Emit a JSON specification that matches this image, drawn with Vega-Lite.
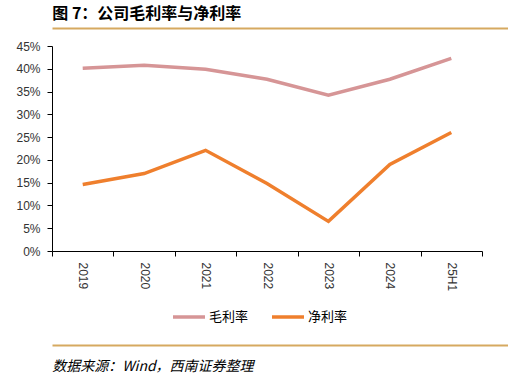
{
  "$schema": "https://vega.github.io/schema/vega-lite/v6.json",
  "background": "white",
  "padding": {"left": 5, "right": 3, "top": 5, "bottom": 2},
  "spacing": 9,
  "config": {"view": {"stroke": null}, "font": "Liberation Sans"},
  "datasets": {
    "margins": [
      {"year": "2019", "type": "毛利率", "value": 0.401},
      {"year": "2020", "type": "毛利率", "value": 0.408},
      {"year": "2021", "type": "毛利率", "value": 0.399},
      {"year": "2022", "type": "毛利率", "value": 0.377},
      {"year": "2023", "type": "毛利率", "value": 0.342},
      {"year": "2024", "type": "毛利率", "value": 0.377},
      {"year": "25H1", "type": "毛利率", "value": 0.423},
      {"year": "2019", "type": "净利率", "value": 0.146},
      {"year": "2020", "type": "净利率", "value": 0.170},
      {"year": "2021", "type": "净利率", "value": 0.221},
      {"year": "2022", "type": "净利率", "value": 0.148},
      {"year": "2023", "type": "净利率", "value": 0.065},
      {"year": "2024", "type": "净利率", "value": 0.190},
      {"year": "25H1", "type": "净利率", "value": 0.260}
    ],
    "unit": [{"v": 0}, {"v": 1}]
  },
  "vconcat": [
    {
      "title": {"text": "图 7：公司毛利率与净利率", "anchor": "start", "font": "Noto Sans CJK SC", "fontSize": 16, "fontWeight": "bold", "color": "#000000", "dx": 3, "offset": 3},
      "width": 498,
      "height": 1,
      "data": {"name": "unit"},
      "mark": {"type": "point", "opacity": 0},
      "encoding": {
        "x": {"field": "v", "type": "quantitative", "scale": {"domain": [0, 1]},
          "axis": {"domainColor": "#D6A960", "domainWidth": 2, "ticks": false, "labels": false, "title": null, "grid": false}}
      }
    },
    {
      "width": 430,
      "height": 205,
      "data": {"name": "margins"},
      "mark": {"type": "line", "strokeWidth": 3.5},
      "encoding": {
        "x": {"field": "year", "type": "ordinal", "sort": null,
          "axis": {"title": null, "labelAngle": 90, "tickBand": "extent", "tickSize": 5, "labelPadding": 6, "labelFontSize": 12, "labelColor": "#333333", "domainColor": "#000000", "tickColor": "#000000"}},
        "y": {"field": "value", "type": "quantitative", "scale": {"domain": [0, 0.45], "nice": false},
          "axis": {"title": null, "grid": false, "values": [0, 0.05, 0.1, 0.15, 0.2, 0.25, 0.3, 0.35, 0.4, 0.45], "format": ".0%", "tickSize": 5, "labelPadding": 7, "labelFontSize": 12, "labelColor": "#333333", "domainColor": "#000000", "tickColor": "#000000", "minExtent": 47, "maxExtent": 47}},
        "color": {"field": "type", "type": "nominal", "sort": ["毛利率", "净利率"],
          "scale": {"domain": ["毛利率", "净利率"], "range": ["#D69596", "#EF7F2D"]},
          "legend": {"title": null, "orient": "none", "legendX": 119, "legendY": 272, "direction": "horizontal", "symbolType": "stroke", "symbolStrokeWidth": 3.5, "symbolSize": 1024, "labelFont": "Noto Sans CJK SC", "labelFontSize": 13, "labelColor": "#000000", "labelOffset": 2, "columnPadding": 16}}
      }
    },
    {
      "title": {"text": "数据来源：Wind，西南证券整理", "orient": "bottom", "anchor": "start", "font": "Noto Sans CJK SC", "fontSize": 14, "fontStyle": "italic", "fontWeight": "normal", "color": "#000000", "dx": 3, "offset": 15},
      "width": 498,
      "height": 45,
      "data": {"name": "unit"},
      "mark": {"type": "point", "opacity": 0},
      "encoding": {
        "x": {"field": "v", "type": "quantitative", "scale": {"domain": [0, 1]},
          "axis": {"domainColor": "#D6A960", "domainWidth": 2, "ticks": false, "labels": false, "title": null, "grid": false}}
      }
    }
  ]
}
